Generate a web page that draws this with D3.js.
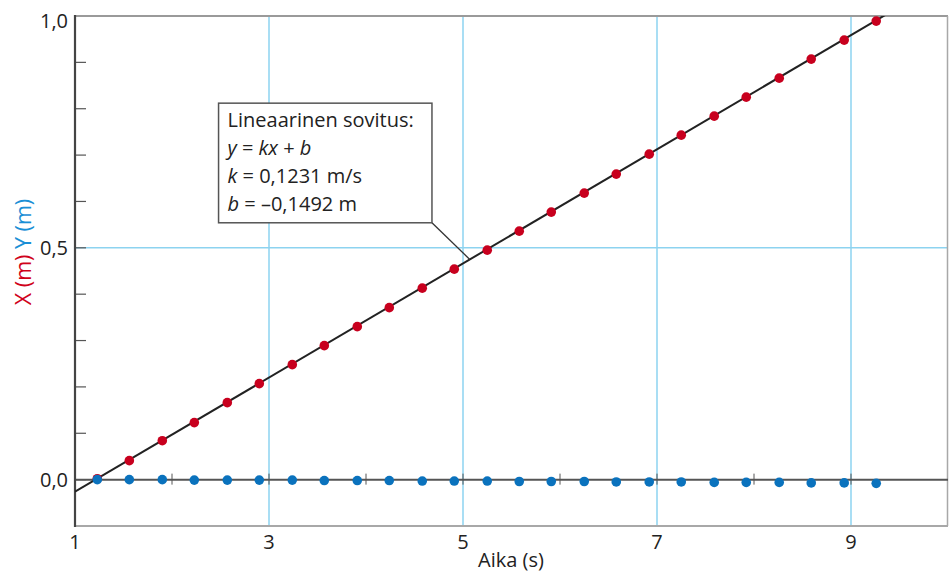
<!DOCTYPE html>
<html>
<head>
<meta charset="utf-8">
<script src="https://cdn.jsdelivr.net/npm/d3@7"></script>
<style>
  body { margin: 0; background: #fff; }
  text { font-family: "Open Sans", "Noto Sans", sans-serif; }
</style>
</head>
<body>
<div id="chart"></div>
<script>
/* DATA */
const time = [1.23, 1.56, 1.90, 2.23, 2.57, 2.90, 3.24, 3.57, 3.91, 4.24, 4.58, 4.91, 5.25,
              5.58, 5.91, 6.25, 6.58, 6.92, 7.25, 7.59, 7.92, 8.26, 8.59, 8.93, 9.26];
const xPos = [0.002, 0.041, 0.084, 0.123, 0.166, 0.207, 0.248, 0.289, 0.330, 0.371, 0.413, 0.454, 0.495,
              0.536, 0.577, 0.618, 0.659, 0.702, 0.743, 0.784, 0.825, 0.866, 0.907, 0.948, 0.989];
const yPos = [0.000, 0.000, 0.000, -0.001, -0.001, -0.001, -0.001, -0.002, -0.002, -0.002, -0.003, -0.003, -0.003,
              -0.004, -0.004, -0.004, -0.005, -0.005, -0.005, -0.006, -0.006, -0.006, -0.007, -0.007, -0.008];
const fitK = 0.1231;
const fitB = -0.1492;
const xTickLabels = [1, 3, 5, 7, 9];
const xGrid = [3, 5, 7, 9];
const yGrid = [0.5];
const yTickLabels = [0, 0.5, 1.0];
const yMinorTicks = [0, 0.1, 0.2, 0.3, 0.4, 0.5, 0.6, 0.7, 0.8, 0.9];
const zeroLineTicks = [2, 3, 4, 5, 6, 7, 8, 9];

/* LAYOUT */
const width = 949, height = 574;
const margin = { top: 16, right: 1, bottom: 48, left: 75 };

const svg = d3.select("#chart").append("svg")
  .attr("width", width)
  .attr("height", height);

const xScale = d3.scaleLinear().domain([1, 10]).range([margin.left, width - margin.right]);
const yScale = d3.scaleLinear().domain([-0.1, 1.0]).range([height - margin.bottom, margin.top]);

const fmt = d => d3.format(".1f")(d).replace(".", ",");

svg.append("defs").append("clipPath").attr("id", "plot")
  .append("rect")
  .attr("x", margin.left).attr("y", margin.top)
  .attr("width", width - margin.left - margin.right)
  .attr("height", height - margin.top - margin.bottom);

// grid
svg.selectAll(".vgrid").data(xGrid).join("line")
  .attr("x1", d => xScale(d)).attr("x2", d => xScale(d))
  .attr("y1", yScale(1.0)).attr("y2", yScale(-0.1))
  .attr("stroke", "#8dd3f0").attr("stroke-width", 1.5);
svg.selectAll(".hgrid").data(yGrid).join("line")
  .attr("x1", xScale(1)).attr("x2", xScale(10))
  .attr("y1", d => yScale(d)).attr("y2", d => yScale(d))
  .attr("stroke", "#8dd3f0").attr("stroke-width", 1.5);

// frame
svg.append("line").attr("x1", xScale(1)).attr("x2", xScale(10))
  .attr("y1", yScale(1.0)).attr("y2", yScale(1.0)).attr("stroke", "#9a9a9a").attr("stroke-width", 2);
svg.append("line").attr("x1", xScale(1)).attr("x2", xScale(10))
  .attr("y1", yScale(-0.1)).attr("y2", yScale(-0.1)).attr("stroke", "#a8a8a8").attr("stroke-width", 2);
svg.append("line").attr("x1", xScale(10) - 0.5).attr("x2", xScale(10) - 0.5)
  .attr("y1", yScale(1.0)).attr("y2", yScale(-0.1)).attr("stroke", "#a8a8a8").attr("stroke-width", 1.5);

// y minor ticks (inward)
svg.selectAll(".ytick").data(yMinorTicks).join("line")
  .attr("x1", xScale(1)).attr("x2", xScale(1) + 11)
  .attr("y1", d => yScale(d)).attr("y2", d => yScale(d))
  .attr("stroke", "#555").attr("stroke-width", 1.2);

// zero line with small cross ticks
svg.append("line").attr("x1", xScale(1)).attr("x2", xScale(10))
  .attr("y1", yScale(0)).attr("y2", yScale(0))
  .attr("stroke", "#555").attr("stroke-width", 2);
svg.selectAll(".ztick").data(zeroLineTicks).join("line")
  .attr("x1", d => xScale(d)).attr("x2", d => xScale(d))
  .attr("y1", yScale(0) - 6).attr("y2", yScale(0) + 5)
  .attr("stroke", "#555").attr("stroke-width", 1);

// left axis
svg.append("line").attr("x1", xScale(1)).attr("x2", xScale(1))
  .attr("y1", yScale(1.0) - 1).attr("y2", yScale(-0.1) + 1)
  .attr("stroke", "#444").attr("stroke-width", 2.2);

// fit line
const fitLine = d3.line().x(d => xScale(d)).y(d => yScale(fitK * d + fitB));
svg.append("path")
  .attr("clip-path", "url(#plot)")
  .attr("d", fitLine([1, 10]))
  .attr("fill", "none").attr("stroke", "#222").attr("stroke-width", 2);

// points
svg.selectAll(".xdot").data(time).join("circle")
  .attr("cx", d => xScale(d)).attr("cy", (d, i) => yScale(xPos[i]))
  .attr("r", 4.8).attr("fill", "#c8001e");
svg.selectAll(".ydot").data(time).join("circle")
  .attr("cx", d => xScale(d)).attr("cy", (d, i) => yScale(yPos[i]))
  .attr("r", 4.8).attr("fill", "#0a72bd");

// tick labels
svg.selectAll(".xlab").data(xTickLabels).join("text")
  .attr("x", d => xScale(d)).attr("y", yScale(-0.1) + 23)
  .attr("text-anchor", "middle").attr("font-size", 20).attr("fill", "#222")
  .text(d => d);
svg.selectAll(".ylab").data(yTickLabels).join("text")
  .attr("x", xScale(1) - 7).attr("y", d => Math.max(yScale(d) + 7, 28))
  .attr("text-anchor", "end").attr("font-size", 20).attr("fill", "#222")
  .text(d => fmt(d));

// axis titles
svg.append("text")
  .attr("x", 511).attr("y", 567)
  .attr("text-anchor", "middle").attr("font-size", 20).attr("fill", "#222")
  .text("Aika (s)");
const ytitle = svg.append("text")
  .attr("transform", "translate(31,252) rotate(-90)")
  .attr("text-anchor", "middle").attr("font-size", 21.5);
ytitle.append("tspan").attr("fill", "#d0021b").text("X (m) ");
ytitle.append("tspan").attr("fill", "#1a8fd6").text("Y (m)");

// annotation
const box = { t0: 2.48, t1: 4.68, v0: 0.554, v1: 0.812, tTarget: 5.07 };
svg.append("line")
  .attr("x1", xScale(box.t1)).attr("y1", yScale(box.v0))
  .attr("x2", xScale(box.tTarget)).attr("y2", yScale(fitK * box.tTarget + fitB))
  .attr("stroke", "#333").attr("stroke-width", 1.3);
svg.append("rect")
  .attr("x", xScale(box.t0)).attr("y", yScale(box.v1))
  .attr("width", xScale(box.t1) - xScale(box.t0))
  .attr("height", yScale(box.v0) - yScale(box.v1))
  .attr("fill", "#fff").attr("stroke", "#555").attr("stroke-width", 1.5);

const lines = [
  [["Lineaarinen sovitus:", false]],
  [["y", true], [" = ", false], ["kx", true], [" + ", false], ["b", true]],
  [["k", true], [" = 0,1231 m/s", false]],
  [["b", true], [" = –0,1492 m", false]]
];
const note = svg.append("text").attr("font-size", 20).attr("fill", "#222");
lines.forEach((parts, i) => {
  parts.forEach(([txt, it], j) => {
    const ts = note.append("tspan").text(txt)
      .attr("font-style", it ? "italic" : "normal");
    if (j === 0) ts.attr("x", xScale(box.t0) + 9).attr("y", yScale(box.v1) + 24 + i * 28);
  });
});
</script>
</body>
</html>
